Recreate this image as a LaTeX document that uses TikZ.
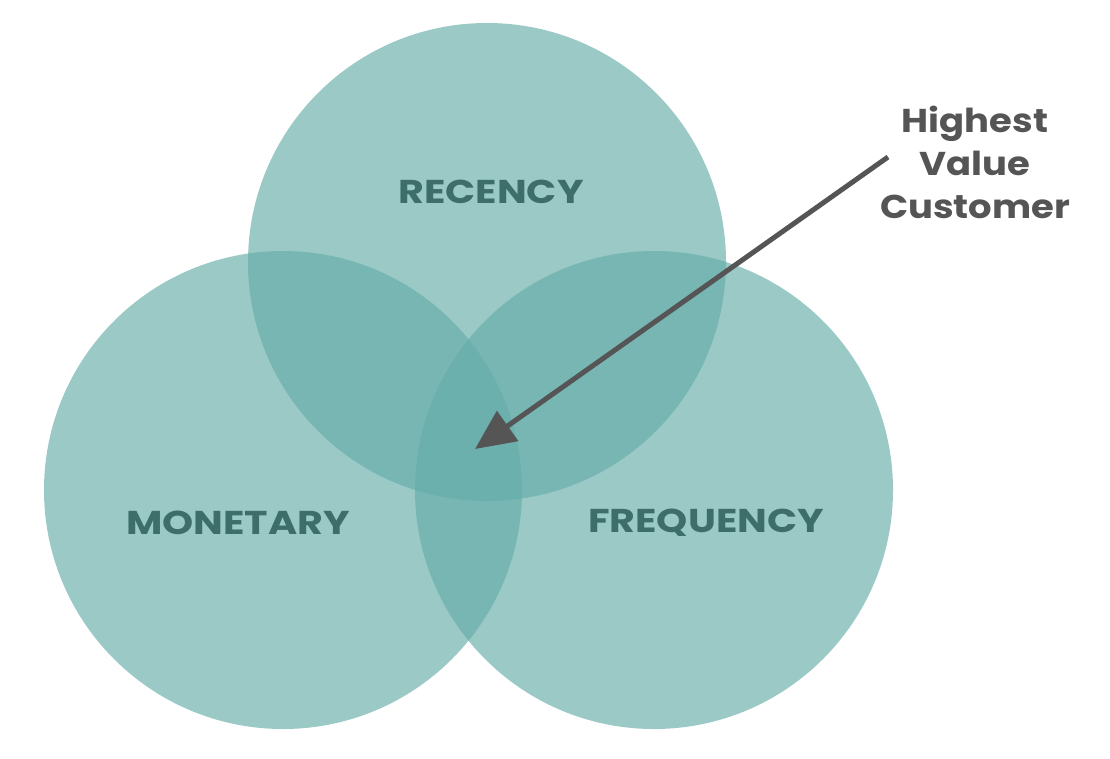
\documentclass[tikz,border=0pt]{standalone}
\usepackage{fontspec}
\setmainfont{Poppins}
\newfontfamily\widefont[FakeStretch=1.2]{Poppins}
\newfontfamily\callfont[FakeStretch=1.12]{Poppins}
\usetikzlibrary{arrows.meta}
\definecolor{circfill}{RGB}{100,172,168}
\definecolor{labeltxt}{RGB}{62,110,106}
\definecolor{calltxt}{RGB}{85,85,85}
\tikzset{
  setcirc/.style={circle, fill=circfill, fill opacity=0.65, minimum size=478pt, inner sep=0pt, draw=none},
  setlabel/.style={text=labeltxt, font=\widefont\fontsize{33}{38}\selectfont\bfseries},
  calllabel/.style={text=calltxt, font=\callfont\fontsize{33}{43}\selectfont\bfseries, align=center},
  callarrow/.style={draw=calltxt, line width=5pt, -{Triangle[length=40pt, width=36pt]}}
}
\begin{document}
\begin{tikzpicture}[x=1pt, y=-1pt]
\useasboundingbox (0,0) rectangle (1110,758);
\node[setcirc] (rec) at (487,262) {};
\node[setcirc] (mon) at (283,490) {};
\node[setcirc] (fre) at (654,490) {};
\node[setlabel] (lrec) at (491,192) {RECENCY};
\node[setlabel] (lmon) at (238,523) {MONETARY};
\node[setlabel] (lfre) at (706,523) {FREQUENCY};
\node[calllabel] (hvc) at (975,162) {Highest\\Value\\Customer};
\coordinate (astart) at (888,157);
\coordinate (atip) at (475,449);
\draw[callarrow] (astart) -- (atip);
\end{tikzpicture}
\end{document}
